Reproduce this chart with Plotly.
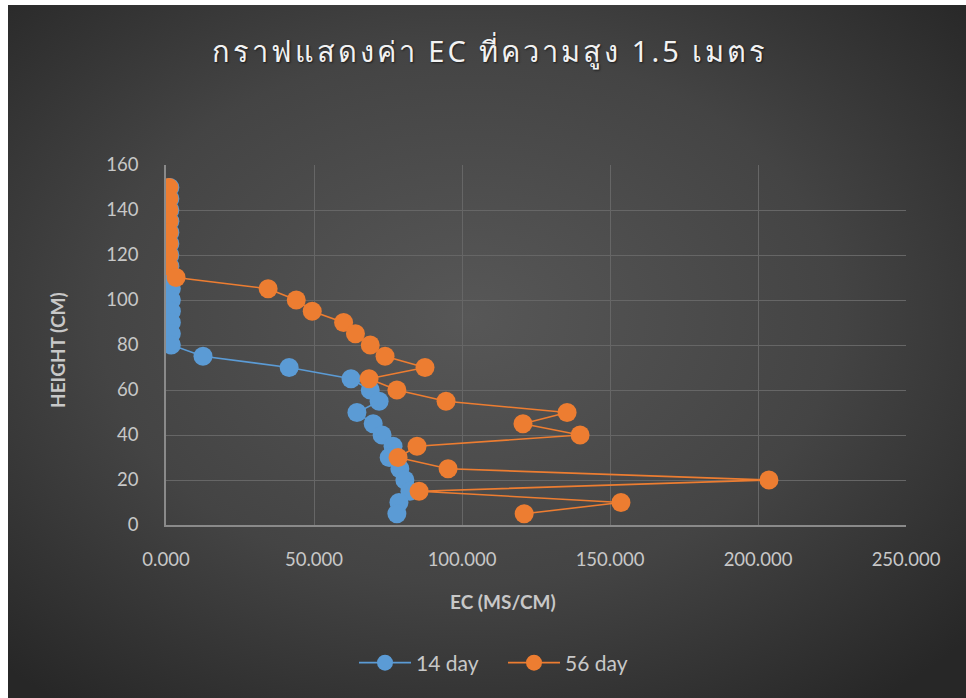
import base64
import plotly.graph_objects as go

# Sampling heights (cm) and measured EC (mS/cm) for each curing age
height = [150, 145, 140, 135, 130, 125, 120, 115, 110, 105, 100, 95, 90, 85, 80,
          75, 70, 65, 60, 55, 50, 45, 40, 35, 30, 25, 20, 15, 10, 5]
ec_14day = [1.3, 1.3, 1.3, 1.3, 1.3, 1.3, 1.3, 1.3, 1.8, 1.8, 1.8, 1.8, 1.8, 1.8, 1.8,
            12.5, 41.6, 62.5, 69.0, 72.0, 64.5, 70.0, 73.0, 76.7, 75.4, 79.0, 80.7, 82.4, 78.7, 78.0]
ec_56day = [1.0, 1.0, 1.0, 1.0, 1.0, 1.0, 1.0, 1.0, 3.4, 34.5, 44.0, 49.4, 60.0, 64.0, 69.0,
            74.0, 87.5, 68.6, 78.0, 94.6, 135.5, 120.6, 139.9, 84.8, 78.4, 95.3, 203.7, 85.5, 153.7, 121.0]

x_ticks = [0, 50, 100, 150, 200, 250]
y_ticks = [0, 20, 40, 60, 80, 100, 120, 140, 160]

series_names = ["14 day", "56 day"]
series_colors = ["#5B9BD5", "#ED7D31"]

W, H = 966, 698
L, R, T, B = 166, 60, 165, 173
pw, ph = W - L - R, H - T - B


def px_x(px):
    return (px - L) / pw


def px_y(py):
    return (T + ph - py) / ph


# Radial-gradient backdrop for the chart area
svg = (
    '<svg xmlns="http://www.w3.org/2000/svg" width="958" height="693">'
    '<defs><radialGradient id="g" cx="48%" cy="45%" r="70%">'
    '<stop offset="0%" stop-color="#575757"/>'
    '<stop offset="55%" stop-color="#444444"/>'
    '<stop offset="100%" stop-color="#272727"/>'
    '</radialGradient></defs>'
    '<rect width="958" height="693" fill="url(#g)"/></svg>'
)
bg_src = "data:image/svg+xml;base64," + base64.b64encode(svg.encode()).decode()

fig = go.Figure()
for name, xs, color in zip(series_names, [ec_14day, ec_56day], series_colors):
    fig.add_trace(go.Scatter(
        x=xs, y=height, name=name, mode="lines+markers",
        line=dict(color=color, width=1.6),
        marker=dict(color=color, size=19, line=dict(width=0)),
    ))

FONT = "Lato, 'Open Sans', sans-serif"
tick_font = dict(family=FONT, size=18.5, color="#c8c8c8")
title_font = dict(family=FONT, size=19, color="#c8c8c8", weight="bold")

fig.update_layout(
    width=W, height=H,
    margin=dict(l=L, r=R, t=T, b=B),
    paper_bgcolor="white",
    plot_bgcolor="rgba(0,0,0,0)",
    images=[dict(
        source=bg_src, xref="paper", yref="paper",
        x=px_x(8), y=px_y(5),
        sizex=958 / pw, sizey=693 / ph,
        sizing="stretch", xanchor="left", yanchor="top", layer="below",
    )],
    title=dict(
        text="กราฟแสดงค่า EC ที่ความสูง 1.5 เมตร",
        x=490 / W, xanchor="center", y=1 - 52 / H, yanchor="middle",
        font=dict(family="'Noto Sans', 'DejaVu Sans', sans-serif", size=29, color="#f2f2f2",
                  shadow="1px 1px 2px rgba(0,0,0,0.6)"),
    ),
    xaxis=dict(
        range=[0, 250], tickvals=x_ticks, ticktext=[f"{v:.3f}" for v in x_ticks],
        showgrid=True, gridcolor="#666666", gridwidth=1,
        showline=True, linecolor="#8a8a8a", linewidth=1.5,
        zeroline=False, ticks="", ticklabelstandoff=17,
        tickfont=tick_font,
    ),
    yaxis=dict(
        range=[0, 160], tickvals=y_ticks,
        showgrid=True, gridcolor="#666666", gridwidth=1,
        showline=True, linecolor="#8a8a8a", linewidth=1.5,
        zeroline=False, ticks="", ticklabelstandoff=22,
        tickfont=tick_font,
    ),
    annotations=[
        dict(text="EC (MS/CM)", xref="paper", yref="paper", x=px_x(503), y=px_y(601),
             xanchor="center", yanchor="middle", showarrow=False, font=title_font),
        dict(text="HEIGHT (CM)", xref="paper", yref="paper", x=px_x(57), y=px_y(350),
             xanchor="center", yanchor="middle", showarrow=False, font=title_font,
             textangle=-90),
    ],
    legend=dict(
        orientation="h", x=px_x(354), xanchor="left",
        y=px_y(663), yanchor="middle",
        font=dict(family=FONT, size=21, color="#c8c8c8"),
        bgcolor="rgba(0,0,0,0)", itemwidth=52,
        entrywidth=82, entrywidthmode="pixels",
    ),
    showlegend=True,
)

# Widen the tracking of the chart title
post = """
var t = document.querySelector('.gtitle');
if (t) { t.style.letterSpacing = '3px'; }
"""
fig.write_html("out.html", post_script=post)
